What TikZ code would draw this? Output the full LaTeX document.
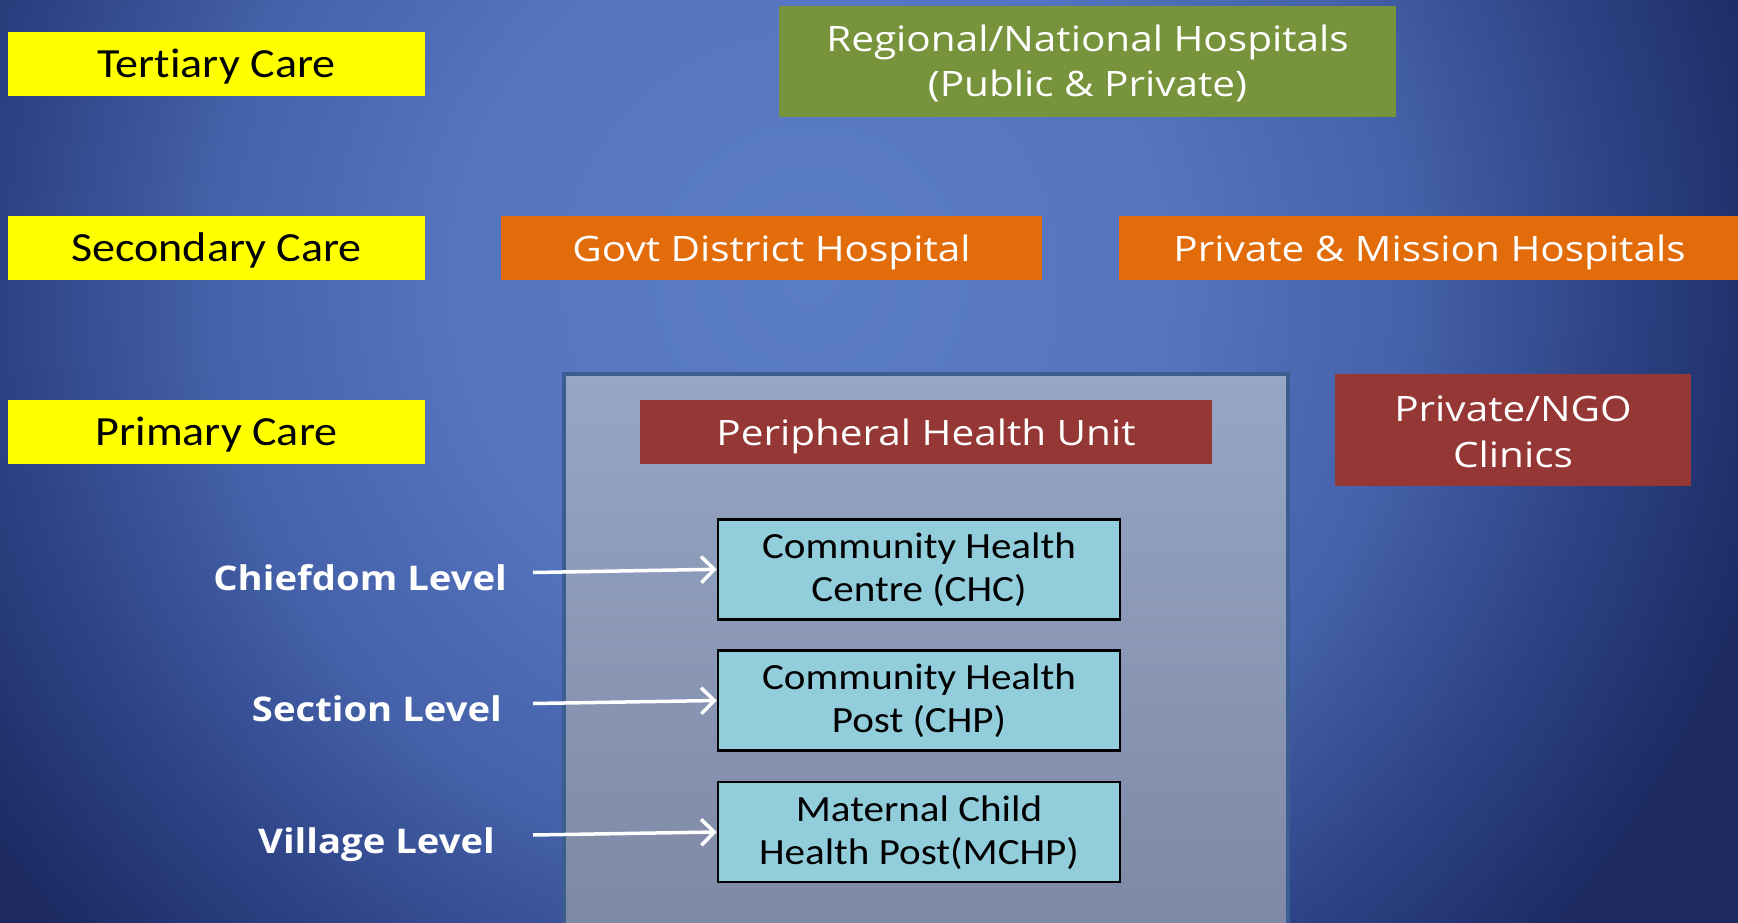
\documentclass[tikz,border=0pt]{standalone}
\usepackage{fontspec}
\setmainfont{Carlito}[FakeStretch=1.11, Ligatures=NoCommon]
\newfontfamily\boxfont{Open Sans}[FakeStretch=1.157]
\newfontfamily\labelfont{Open Sans}[FakeStretch=1.125]
\usetikzlibrary{arrows.meta}

\definecolor{bgA}{HTML}{5B7CC7}
\definecolor{bgB}{HTML}{5574BF}
\definecolor{bgC}{HTML}{4461A9}
\definecolor{bgD}{HTML}{2E4386}
\definecolor{bgE}{HTML}{22336F}
\definecolor{bgF}{HTML}{1C2A60}
\definecolor{careyellow}{HTML}{FFFF00}
\definecolor{tertgreen}{HTML}{77933C}
\definecolor{secorange}{HTML}{E36C0A}
\definecolor{primred}{HTML}{953735}
\definecolor{unitblue}{HTML}{92CDDC}
\definecolor{areatop}{HTML}{96A6C6}
\definecolor{areabot}{HTML}{7D87A3}
\definecolor{areaedge}{HTML}{3B5D8F}

\pgfdeclareradialshading{slidebg}{\pgfpoint{0bp}{0bp}}{%
  color(0bp)=(bgA); color(9bp)=(bgB); color(15bp)=(bgC);
  color(20bp)=(bgD); color(23bp)=(bgE); color(25bp)=(bgF); color(50bp)=(bgF)}

% struts fixing the extent of the first and the last line of a box text
\newcommand\firstline[1]{\rule{0pt}{#1}}
\newcommand\lastline[1]{\rule[-#1]{0pt}{#1}}

\tikzset{
  carebox/.style={fill=careyellow, text=black, inner sep=0pt,
    minimum width=417pt, minimum height=64pt,
    text height=36.6pt, text depth=10pt,
    font=\fontsize{41.5}{50}\selectfont},
  hospbox/.style={inner sep=0pt, text=white, align=center,
    font=\boxfont\fontsize{35}{45}\selectfont},
  oneline/.style={text height=36pt, text depth=10pt},
  unitbox/.style={fill=unitblue, draw=black, line width=2.5pt, inner sep=0pt,
    minimum width=402pt, minimum height=100pt, align=center, text=black,
    font=\fontsize{37}{43.4}\selectfont},
  levellabel/.style={text=white, inner sep=0pt, anchor=base east,
    font=\labelfont\bfseries\fontsize{34}{40}\selectfont},
  levelarrow/.style={draw=white, line width=3.5pt,
    -{Straight Barb[length=13pt,width=26pt]}}
}

\begin{document}
\begin{tikzpicture}[x=1pt,y=-1pt]
\useasboundingbox (0,0) rectangle (1738,923);
\clip (0,0) rectangle (1738,923);

% slide background: dark edges, lighter centre
\fill[bgF] (0,0) rectangle (1738,923);
\shade[shading=slidebg] (810,280) circle (1000);

% primary care area behind the peripheral units
\node (area) [shade, top color=areatop, bottom color=areabot, draw=areaedge,
  line width=4pt, inner sep=0pt, minimum width=724pt, minimum height=580pt]
  at (926,664) {};

% care levels
\node (tert) [carebox] at (216.5,64) {Tertiary Care};
\node (sec)  [carebox] at (216.5,248) {Secondary Care};
\node (prim) [carebox] at (216.5,432) {Primary Care};

% tertiary
\node (regional) [hospbox, fill=tertgreen, minimum width=617pt, minimum height=111pt]
  at (1087.5,61.5)
  {\firstline{36pt}Regional/National Hospitals\\(Public \& Private)\lastline{10pt}};

% secondary
\node (govt) [hospbox, oneline, fill=secorange, minimum width=541pt, minimum height=64pt]
  at (771.5,248) {Govt District Hospital};
\node (mission) [hospbox, oneline, fill=secorange, minimum width=621pt, minimum height=64pt]
  at (1429.5,248) {Private \& Mission Hospitals};

% primary
\node (phu) [hospbox, oneline, fill=primred, minimum width=572pt, minimum height=64pt]
  at (926,432) {Peripheral Health Unit};
\node (ngo) [hospbox, fill=primred, minimum width=356pt, minimum height=112pt,
  font=\boxfont\fontsize{35}{46}\selectfont]
  at (1513,430) {\firstline{38pt}Private/NGO\\Clinics\lastline{10pt}};

% peripheral units
\node (chc)  [unitbox] at (919,569.3)
  {\firstline{32pt}Community Health\\Centre (CHC)\lastline{10.6pt}};
\node (chp)  [unitbox] at (919,700.5)
  {\firstline{32pt}Community Health\\Post (CHP)\lastline{10.6pt}};
\node (mchp) [unitbox] at (919,832)
  {\firstline{32pt}Maternal Child\\Health Post(MCHP)\lastline{10.6pt}};

% administrative levels
\node (chiefdom) [levellabel] at (507,590) {Chiefdom Level};
\node (section)  [levellabel] at (502,721.7) {Section Level};
\node (village)  [levellabel] at (495,853) {Village Level};

\coordinate (chiefdomtail) at (533,572.5);
\coordinate (sectiontail)  at (533,703.5);
\coordinate (villagetail)  at (533,835);

\draw[levelarrow] (chiefdomtail) -- (chc.west);
\draw[levelarrow] (sectiontail) -- (chp.west);
\draw[levelarrow] (villagetail) -- (mchp.west);
\end{tikzpicture}
\end{document}
